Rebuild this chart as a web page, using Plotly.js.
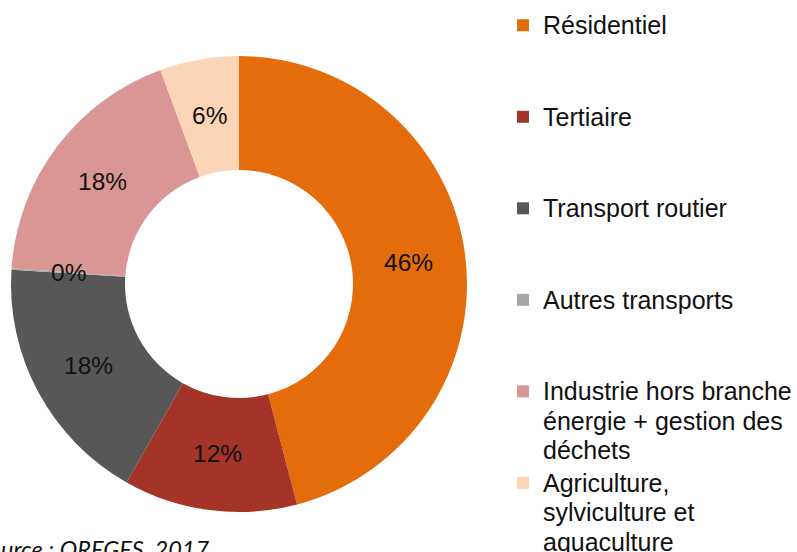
<!DOCTYPE html>
<html><head><meta charset="utf-8">
<script src="https://cdn.plot.ly/plotly-3.0.1.min.js"></script>
<style>html,body{margin:0;padding:0;background:#fff}#chart{width:797px;height:552px}</style>
</head><body><div id="chart"></div>
<script>
// ---- data ----
const categories = [
  'Résidentiel',
  'Tertiaire',
  'Transport routier',
  'Autres transports',
  'Industrie hors branche<br>énergie + gestion des<br>déchets',
  'Agriculture,<br>sylviculture et<br>aquaculture'
];
const shares = [45.9, 12.3, 17.8, 0.1, 18.3, 5.6];
const colors = ['#E46C0A', '#A43428', '#575757', '#A6A6A6', '#D99694', '#FBD5B5'];
const sourceText = 'Source : OREGES, 2017';

// ---- layout constants ----
const W = 797, H = 552;
const domX = [11 / W, 467 / W];
const domY = [40 / H, 496 / H];
const HOLE = 0.5;
const LEG_LINE_FONT = 22.7;   // drives legend line pitch
const LEG_GLYPH = 25;         // visible glyph size

// legend labels padded to three lines so every entry has the same pitch
const legendLabels = categories.map(c => {
  const n = c.split('<br>').length;
  let s = '<span style="font-size:' + LEG_GLYPH + 'px">' + c + '</span>';
  for (let i = n; i < 3; i++) s += '<br> ';
  return s;
});

// percentage labels at mid-angle / mid-radius of each slice, from the data
const total = shares.reduce((a, b) => a + b, 0);
const cx = (domX[0] + domX[1]) / 2, cy = (domY[0] + domY[1]) / 2;
const rPx = Math.min((domX[1] - domX[0]) * W, (domY[1] - domY[0]) * H) / 2;
const rMid = rPx * (1 + HOLE) / 2;
let cum = 0;
const pctAnnotations = shares.map(v => {
  const mid = (cum + v / 2) / total * 2 * Math.PI;
  cum += v;
  return {
    xref: 'paper', yref: 'paper',
    x: cx + rMid * Math.sin(mid) / W,
    y: cy + rMid * Math.cos(mid) / H,
    text: Math.round(v / total * 100) + '%',
    showarrow: false, xanchor: 'center', yanchor: 'middle',
    font: {family: 'Liberation Sans, Arial, sans-serif', size: 24.5, color: '#111'}
  };
});

const trace = {
  type: 'pie',
  values: shares,
  labels: legendLabels,
  sort: false,
  direction: 'clockwise',
  rotation: 0,
  hole: HOLE,
  marker: {colors: colors, line: {width: 0}},
  textinfo: 'none',
  hoverinfo: 'none',
  domain: {x: domX, y: domY}
};

const layout = {
  width: W, height: H,
  margin: {l: 0, r: 0, t: 0, b: 0, pad: 0, autoexpand: false},
  paper_bgcolor: '#fff',
  showlegend: true,
  legend: {
    xref: 'container', yref: 'container',
    x: 503 / W, xanchor: 'left',
    y: 1 - 4 / H, yanchor: 'top',
    valign: 'top',
    maxheight: 2000,
    font: {family: 'Liberation Sans, Arial, sans-serif', size: LEG_LINE_FONT, color: '#111'},
    bgcolor: 'rgba(0,0,0,0)'
  },
  annotations: pctAnnotations.concat([{
    xref: 'paper', yref: 'paper',
    x: 211 / W, xanchor: 'right',
    y: 1 - 533 / H, yanchor: 'top',
    text: sourceText, showarrow: false,
    font: {family: 'Lato, Open Sans, sans-serif', size: 23.5, style: 'italic', color: '#111'}
  }])
};

Plotly.newPlot('chart', [trace], layout, {displayModeBar: false, staticPlot: true});
</script>
</body></html>
